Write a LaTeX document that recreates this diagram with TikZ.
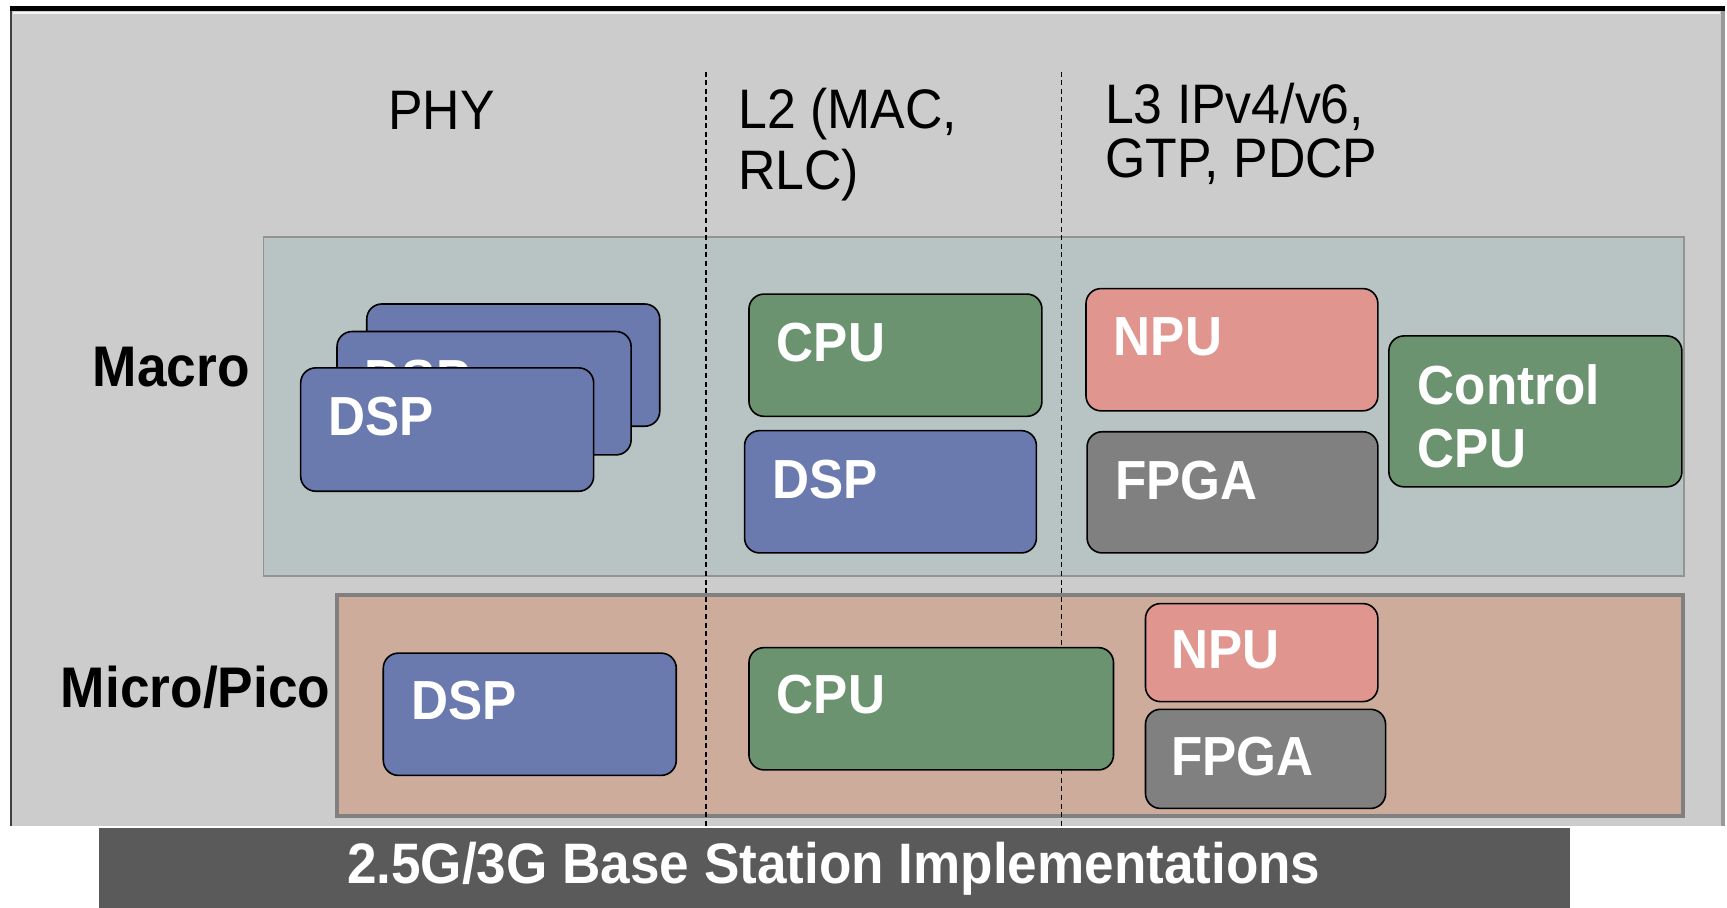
\documentclass[tikz,border=0pt]{standalone}
\usepackage{fontspec}
\setmainfont{Liberation Sans}[FakeStretch=0.93]
\definecolor{panelgray}{RGB}{204,204,204}
\definecolor{macrofill}{RGB}{184,196,196}
\definecolor{microfill}{RGB}{205,172,156}
\definecolor{dspblue}{RGB}{106,122,174}
\definecolor{cpugreen}{RGB}{107,147,112}
\definecolor{npured}{RGB}{224,149,142}
\definecolor{fpgagray}{RGB}{128,128,128}
\definecolor{bannergray}{RGB}{90,90,90}
\newcommand{\hdrfont}{\fontsize{27.8}{30.3}\selectfont}
\newcommand{\hwfont}{\fontsize{27.5}{31.5}\selectfont\bfseries}

\begin{document}
\begin{tikzpicture}[x=0.55pt,y=-0.55pt,
  hw/.style={draw=black,line width=0.8pt,rounded corners=7.5pt},
  hwtext/.style={anchor=west,inner sep=0pt,text=white,font=\hwfont,align=left},
  hdr/.style={inner sep=0pt,font=\hdrfont,align=left},
  rowlabel/.style={inner sep=0pt,font=\fontsize{28.6}{31}\selectfont\bfseries}]
  \useasboundingbox (0,0) rectangle (1568,824);

  %outer panel
  \fill[panelgray] (10,8) rectangle (1565,750);
  \draw[white!92!gray,line width=1.2pt] (12,12) -- (1562,12);
  \draw[gray!80,line width=2pt] (1564,9) -- (1564,750);
  \draw[black!75,line width=1.3pt] (10,8) -- (10,750);
  \draw[black,line width=2.4pt] (9,8) -- (1566,8);

  %regions
  \draw[macrofill,fill=macrofill] (239,215) rectangle (1529,523);
  \draw[gray!85,line width=0.7pt] (239,215) rectangle (1529,523);
  \draw[fpgagray,fill=microfill,line width=2.2pt] (306,540) rectangle (1528,741);

  %layer separators
  \foreach \x in {641,964} {
    \draw[black,line width=0.6pt,dash pattern=on 2.5pt off 1.8pt] (\x,65) -- (\x,750);
  }

  %column headers
  \node[hdr] (phy) at (401,100) {PHY};
  \node[hdr,anchor=north west] (ltwo) at (670,80) {L2 (MAC,\\RLC)};
  \node[hdr,anchor=north west,font=\fontsize{27.8}{27}\selectfont] (lthree) at (1003,75) {L3 IPv4/v6,\\GTP, PDCP};

  %row labels
  \node[rowlabel,anchor=east] (macro) at (227,333) {Macro};
  \node[rowlabel,anchor=west] (micro) at (55,624) {Micro/Pico};

  %stacked DSPs (PHY, macro)
  \draw[hw,fill=dspblue] (333,276) rectangle (599,387);
  \draw[hw,fill=dspblue] (306,301) rectangle (573,413);
  \node[hwtext] (dspmid) at (331,345) {DSP};
  \draw[hw,fill=dspblue] (273,334) rectangle (539,446);
  \node[hwtext] (dspfront) at (298,378) {DSP};

  %L2, macro
  \draw[hw,fill=cpugreen] (680,267) rectangle (946,378);
  \node[hwtext] (ltwocpu) at (705,311) {CPU};
  \draw[hw,fill=dspblue] (676,391) rectangle (941,502);
  \node[hwtext] (ltwodsp) at (701,435) {DSP};

  %L3, macro
  \draw[hw,fill=npured] (986,262) rectangle (1251,373);
  \node[hwtext] (lthreenpu) at (1011,306) {NPU};
  \draw[hw,fill=fpgagray] (987,392) rectangle (1251,502);
  \node[hwtext] (lthreefpga) at (1012,436) {FPGA};
  \draw[hw,fill=cpugreen] (1261,305) rectangle (1527,442);
  \node[hwtext] (ctrlcpu) at (1287,378) {Control\\CPU};

  %micro/pico
  \draw[hw,fill=dspblue] (348,593) rectangle (614,704);
  \node[hwtext] (microdsp) at (373,636) {DSP};
  \draw[hw,fill=cpugreen] (680,588) rectangle (1011,699);
  \node[hwtext] (microcpu) at (705,631) {CPU};
  \draw[hw,fill=npured] (1040,548) rectangle (1251,637);
  \node[hwtext] (micronpu) at (1063,590) {NPU};
  \draw[hw,fill=fpgagray] (1040,644) rectangle (1258,734);
  \node[hwtext] (microfpga) at (1063,687) {FPGA};

  %banner
  \fill[bannergray] (90,752) rectangle (1425,824);
  \node[inner sep=0pt,text=white,font=\fontsize{28.5}{30}\selectfont\bfseries] (banner) at (757,789) {2.5G/3G Base Station Implementations};
\end{tikzpicture}
\end{document}
